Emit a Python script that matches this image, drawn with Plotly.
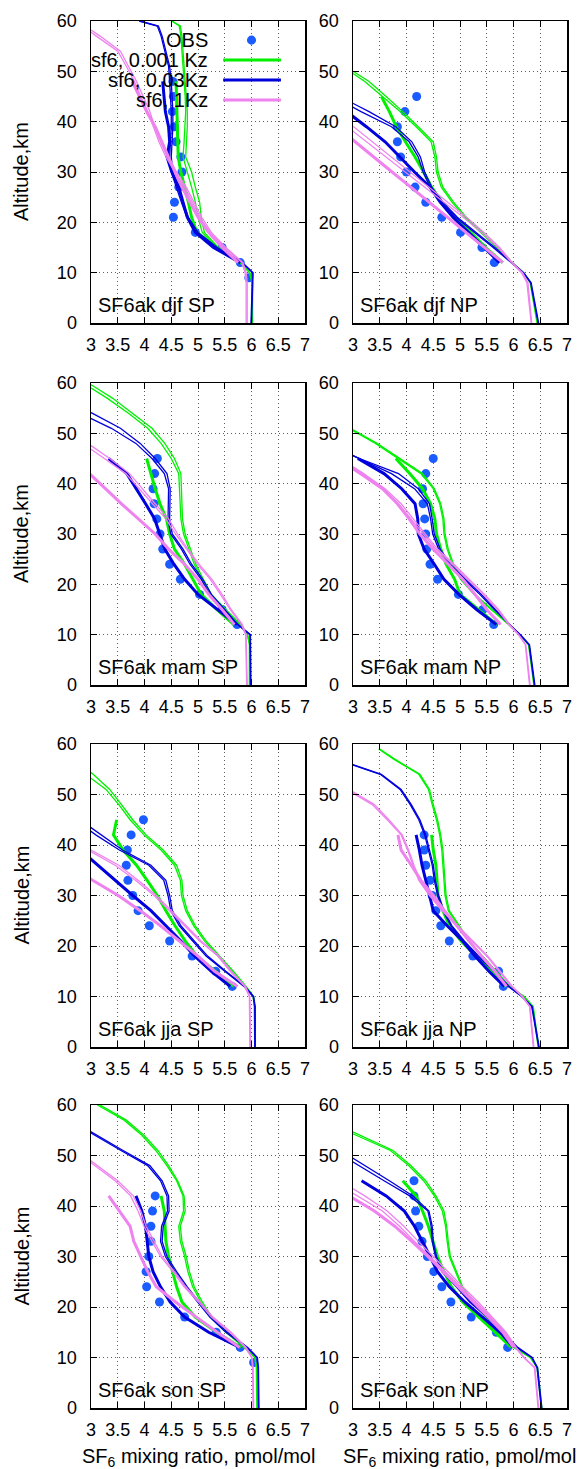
import plotly.graph_objects as go

# ---------------- axes / grids ----------------
ALT_M = [0, 8, 10, 12, 15, 18, 21, 24, 27, 30, 33, 36, 39, 42, 45, 48, 51, 54, 57, 59, 60]
ALT_AK = [12, 15, 18, 21, 24, 27, 30, 33, 36, 39, 42, 45, 48]
ALT_OBS = [9, 12, 15, 18, 21, 24, 27, 30, 33, 36, 39, 42, 45, 48]
X_TICKS = [3, 3.5, 4, 4.5, 5, 5.5, 6, 6.5, 7]
X_TICK_LABELS = ["3", "3.5", "4", "4.5", "5", "5.5", "6", "6.5", "7"]
Y_TICKS = [0, 10, 20, 30, 40, 50, 60]
PANEL_LABELS = ["SF6ak djf SP", "SF6ak djf NP", "SF6ak mam SP", "SF6ak mam NP",
                "SF6ak jja SP", "SF6ak jja NP", "SF6ak son SP", "SF6ak son NP"]
LEGEND_NAMES = ["OBS", "sf6, 0.001 Kz", "sf6, 0.03Kz", "sf6, 1Kz"]

# ---------------- djf SP ----------------
DJF_SP_OBS = [5.95, 5.79, 5.45, 4.95, 4.54, 4.56, 4.64, 4.70, 4.68, 4.59, 4.56, 4.52, 4.54, 4.53]
DJF_SP_G_A = [6.02, 6.02, 5.97, 5.80, 5.38, 5.12, 5.06, 5.03, 4.95, 4.88, 4.77, 4.79, 4.80, 4.80, 4.78, 4.76, 4.74, 4.72, 4.70, 4.67, 4.50]
DJF_SP_G_B = [6.01, 6.01, 5.96, 5.78, 5.35, 5.08, 5.00, 4.95, 4.88, 4.80, 4.72, 4.74, 4.76, 4.77, 4.76, 4.74, 4.72, 4.70, 4.68, 4.65, 4.52]
DJF_SP_G_AK = [5.78, 5.35, 4.98, 4.88, 4.82, 4.75, 4.68, 4.63, 4.62, 4.61, 4.60, 4.60, 4.59]
DJF_SP_B_A = [6.00, 6.03, 6.03, 5.83, 5.36, 5.00, 4.82, 4.72, 4.62, 4.53, 4.50, 4.52, 4.53, 4.53, 4.52, 4.50, 4.47, 4.40, 4.33, 4.26, 3.92]
DJF_SP_B_B = [5.99, 6.02, 6.02, 5.82, 5.33, 4.97, 4.79, 4.69, 4.59, 4.50, 4.47, 4.49, 4.50, 4.50, 4.49, 4.47, 4.45, 4.38, 4.31, 4.24, 3.90]
DJF_SP_B_AK = [5.79, 5.29, 4.95, 4.80, 4.72, 4.64, 4.51, 4.42, 4.47, 4.45, 4.39, 4.37, 4.34]
DJF_SP_P_A = [5.92, 5.92, 5.90, 5.84, 5.52, 5.25, 5.07, 4.93, 4.78, 4.60, 4.43, 4.30, 4.19, 4.10, 3.97, 3.85, 3.70, 3.55, 3.17, 2.90, 2.75]
DJF_SP_P_B = [5.90, 5.90, 5.88, 5.82, 5.50, 5.22, 5.04, 4.90, 4.75, 4.57, 4.40, 4.27, 4.16, 4.06, 3.93, 3.81, 3.66, 3.50, 3.10, 2.83, 2.70]
DJF_SP_P_AK = [5.75, 5.45, 5.20, 5.00, 4.85, 4.70, 4.57, 4.45, 4.33, 4.20, 4.04, 3.90, 3.77]

# ---------------- djf NP ----------------
DJF_NP_OBS = [None, 5.64, 5.41, 5.01, 4.66, 4.36, 4.16, 4.00, 3.89, 3.83, 3.83, 3.97, 4.19, None]
DJF_NP_G_A = [6.45, 6.32, 6.19, 5.98, 5.70, 5.42, 5.12, 4.88, 4.68, 4.59, 4.56, 4.50, 4.22, 3.93, 3.62, 3.30, 2.85, 2.40, 2.00, 1.70, 1.60]
DJF_NP_G_B = [6.44, 6.31, 6.18, 5.96, 5.68, 5.39, 5.09, 4.85, 4.65, 4.56, 4.53, 4.46, 4.18, 3.88, 3.56, 3.22, 2.80, 2.35, 1.95, 1.65, 1.55]
DJF_NP_G_AK = [5.80, 5.48, 5.20, 4.88, 4.66, 4.47, 4.32, 4.16, 3.98, 3.81, 3.68, 3.53, None]
DJF_NP_B_A = [6.47, 6.33, 6.19, 5.98, 5.65, 5.30, 4.95, 4.68, 4.47, 4.34, 4.26, 4.10, 3.80, 3.30, 2.75, 2.20, 1.60, 1.00, 0.50, 0.20, 0.00]
DJF_NP_B_B = [6.46, 6.32, 6.18, 5.96, 5.62, 5.27, 4.92, 4.65, 4.44, 4.31, 4.22, 4.05, 3.72, 3.15, 2.60, 2.05, 1.50, 1.00, 0.50, 0.20, 0.00]
DJF_NP_B_AK = [5.74, 5.45, 5.17, 4.87, 4.63, 4.44, 4.15, 3.88, 3.60, 3.25, 2.88, 2.45, None]
DJF_NP_P_A = [6.34, 6.27, 6.17, 5.98, 5.74, 5.45, 5.12, 4.77, 4.42, 4.05, 3.70, 3.35, 3.00, 2.65, 2.30, 1.95, 1.60, 1.25, 0.90, 0.70, 0.55]
DJF_NP_P_B = [6.33, 6.25, 6.15, 5.96, 5.71, 5.40, 5.06, 4.70, 4.34, 3.97, 3.60, 3.24, 2.88, 2.52, 2.16, 1.80, 1.44, 1.08, 0.72, 0.50, 0.36]
DJF_NP_P_AK = [5.80, 5.46, 5.11, 4.77, 4.42, 4.08, 3.73, 3.39, 3.05, 2.70, 2.35, None, None]

# ---------------- mam SP ----------------
MAM_SP_OBS = [None, 5.73, 5.45, 5.03, 4.67, 4.47, 4.34, 4.29, 4.23, 4.18, 4.16, 4.19, 4.24, None]
MAM_SP_G_A = [5.97, 5.97, 5.93, 5.80, 5.52, 5.25, 5.10, 4.96, 4.86, 4.76, 4.71, 4.70, 4.69, 4.68, 4.56, 4.38, 4.14, 3.78, 3.40, 3.10, 2.95]
MAM_SP_G_B = [5.96, 5.96, 5.92, 5.78, 5.50, 5.22, 5.07, 4.93, 4.83, 4.73, 4.68, 4.67, 4.66, 4.64, 4.50, 4.31, 4.06, 3.70, 3.30, 3.00, 2.85]
MAM_SP_G_AK = [5.67, 5.35, 5.06, 4.90, 4.75, 4.56, 4.47, 4.41, 4.29, 4.20, 4.12, 4.04, None]
MAM_SP_B_A = [5.99, 5.99, 5.98, 5.75, 5.50, 5.25, 5.09, 4.88, 4.72, 4.52, 4.47, 4.48, 4.48, 4.42, 4.20, 3.92, 3.55, 3.02, 2.45, 2.10, 1.90]
MAM_SP_B_B = [5.98, 5.98, 5.97, 5.74, 5.48, 5.22, 5.06, 4.85, 4.69, 4.49, 4.44, 4.45, 4.45, 4.37, 4.14, 3.84, 3.38, 2.80, 2.20, 1.80, 1.60]
MAM_SP_B_AK = [5.73, 5.36, 5.00, 4.75, 4.55, 4.38, 4.28, 4.19, 4.02, 3.85, 3.67, 3.33, None]
MAM_SP_P_A = [5.92, 5.91, 5.90, 5.83, 5.62, 5.45, 5.26, 5.02, 4.81, 4.62, 4.45, 4.20, 3.96, 3.72, 3.35, 2.92, 2.50, 2.10, 1.70, 1.45, 1.30]
MAM_SP_P_B = [5.91, 5.90, 5.89, 5.81, 5.60, 5.42, 5.23, 4.99, 4.78, 4.58, 4.40, 4.15, 3.90, 3.65, 3.25, 2.82, 2.40, 2.00, 1.60, 1.35, 1.20]
MAM_SP_P_AK = [5.68, 5.45, 5.20, 5.00, 4.75, 4.45, 4.20, 3.88, 3.57, 3.27, 2.97, None, None]

# ---------------- mam NP ----------------
MAM_NP_OBS = [None, 5.63, 5.43, 4.97, 4.58, 4.44, 4.38, 4.36, 4.34, 4.31, 4.30, 4.36, 4.50, None]
MAM_NP_G_A = [6.39, 6.29, 6.12, 5.92, 5.60, 5.28, 5.03, 4.88, 4.78, 4.72, 4.70, 4.64, 4.52, 4.30, 3.88, 3.45, 2.95, 2.50, 2.00, 1.70, 1.50]
MAM_NP_G_B = [6.38, 6.28, 6.11, 5.91, 5.58, 5.26, 5.01, 4.86, 4.76, 4.70, 4.68, 4.62, 4.50, 4.27, 3.84, 3.42, 2.92, 2.45, 1.95, 1.65, 1.45]
MAM_NP_G_AK = [5.69, 5.35, 5.00, 4.90, 4.74, 4.64, 4.56, 4.53, 4.45, 4.30, 4.06, 3.80, None]
MAM_NP_B_A = [6.40, 6.30, 6.13, 5.93, 5.66, 5.40, 5.10, 4.82, 4.63, 4.52, 4.48, 4.43, 4.22, 3.85, 3.12, 2.50, 1.90, 1.30, 0.70, 0.35, 0.10]
MAM_NP_B_B = [6.39, 6.29, 6.12, 5.92, 5.64, 5.37, 5.07, 4.80, 4.60, 4.49, 4.45, 4.39, 4.15, 3.72, 3.08, 2.45, 1.85, 1.25, 0.65, 0.30, 0.05]
MAM_NP_B_AK = [5.68, 5.31, 4.98, 4.70, 4.52, 4.33, 4.22, 4.21, 4.16, 3.91, 3.58, 3.09, None]
MAM_NP_P_A = [6.31, 6.23, 6.10, 5.93, 5.72, 5.46, 5.17, 4.89, 4.58, 4.35, 4.13, 3.90, 3.60, 3.20, 2.75, 2.30, 1.85, 1.40, 0.95, 0.65, 0.50]
MAM_NP_P_B = [6.30, 6.22, 6.09, 5.91, 5.70, 5.43, 5.14, 4.86, 4.55, 4.32, 4.09, 3.85, 3.55, 3.14, 2.70, 2.25, 1.80, 1.35, 0.90, 0.60, 0.45]
MAM_NP_P_AK = [5.76, 5.50, 5.28, 5.05, 4.78, 4.50, 4.25, 4.05, 3.83, 3.55, 3.14, 2.70, None]

# ---------------- jja SP ----------------
JJA_SP_OBS = [None, 5.64, 5.33, 4.89, 4.47, 4.09, 3.88, 3.78, 3.69, 3.66, 3.68, 3.75, 3.98, None]
JJA_SP_G_A = [6.07, 6.06, 6.04, 5.90, 5.66, 5.40, 5.15, 4.95, 4.80, 4.72, 4.70, 4.60, 4.35, 4.03, 3.78, 3.57, 3.35, 3.04, 2.70, 2.45, 2.30]
JJA_SP_G_B = [6.06, 6.05, 6.03, 5.88, 5.63, 5.37, 5.12, 4.92, 4.77, 4.69, 4.67, 4.56, 4.31, 3.99, 3.73, 3.52, 3.28, 2.90, 2.55, 2.35, 2.20]
JJA_SP_G_AK = [5.67, 5.32, 4.98, 4.76, 4.57, 4.40, 4.24, 4.05, 3.85, 3.60, 3.42, 3.48, None]
JJA_SP_B_A = [6.07, 6.07, 6.04, 5.88, 5.52, 5.18, 4.93, 4.68, 4.52, 4.47, 4.40, 4.12, 3.59, 3.18, 2.77, 2.40, 2.00, 1.60, 1.20, 0.90, 0.80]
JJA_SP_B_B = [6.06, 6.06, 6.03, 5.86, 5.50, 5.15, 4.90, 4.65, 4.49, 4.44, 4.36, 4.08, 3.53, 3.09, 2.70, 2.30, 1.90, 1.50, 1.10, 0.80, 0.70]
JJA_SP_B_AK = [5.60, 5.25, 4.94, 4.68, 4.40, 4.12, 3.78, 3.45, 3.13, 2.80, None, None, None]
JJA_SP_P_A = [5.98, 5.98, 5.97, 5.89, 5.62, 5.40, 5.06, 4.78, 4.50, 4.22, 3.88, 3.52, 3.00, 2.50, 2.00, None, None, None, None, None, None]
JJA_SP_P_B = [5.97, 5.97, 5.96, 5.87, 5.60, 5.37, 5.03, 4.75, 4.47, 4.18, 3.83, 3.45, 2.94, 2.45, 1.95, None, None, None, None, None, None]
JJA_SP_P_AK = [5.74, 5.31, 5.00, 4.65, 4.30, 3.92, 3.51, 3.03, 2.60, None, None, None, None]

# ---------------- jja NP ----------------
JJA_NP_OBS = [None, 5.81, 5.72, 5.24, 4.80, 4.64, 4.55, 4.48, 4.44, 4.36, 4.33, 4.33, None, None]
JJA_NP_G_A = [6.47, 6.37, 6.20, 5.93, 5.68, 5.43, 5.17, 4.99, 4.80, 4.74, 4.72, 4.70, 4.68, 4.64, 4.58, 4.50, 4.43, 4.25, 3.78, 3.50, None]
JJA_NP_G_B = [6.46, 6.36, 6.19, 5.91, 5.66, 5.41, 5.15, 4.97, 4.78, 4.72, 4.70, 4.68, 4.66, 4.62, 4.56, 4.48, 4.41, 4.23, 3.76, 3.48, None]
JJA_NP_G_AK = [5.86, 5.58, 5.30, 5.02, 4.80, 4.68, 4.59, 4.57, 4.55, 4.50, 4.47, None, None]
JJA_NP_B_A = [6.48, 6.35, 6.16, 5.92, 5.65, 5.35, 5.08, 4.85, 4.70, 4.60, 4.54, 4.50, 4.43, 4.36, 4.25, 4.09, 3.90, 3.53, 2.70, 2.30, 2.10]
JJA_NP_B_B = [6.47, 6.34, 6.15, 5.90, 5.63, 5.33, 5.06, 4.83, 4.68, 4.58, 4.52, 4.48, 4.41, 4.34, 4.23, 4.07, 3.88, 3.51, 2.68, 2.28, 2.08]
JJA_NP_B_AK = [5.83, 5.54, 5.28, 5.05, 4.76, 4.50, 4.43, 4.36, 4.29, 4.24, 4.18, None, None]
JJA_NP_P_A = [6.38, 6.31, 6.17, 5.98, 5.75, 5.52, 5.24, 4.96, 4.68, 4.45, 4.25, 4.14, 4.04, 3.92, 3.67, 3.40, 2.95, 2.50, 2.00, 1.70, 1.50]
JJA_NP_P_B = [6.37, 6.30, 6.16, 5.96, 5.73, 5.50, 5.22, 4.94, 4.66, 4.43, 4.23, 4.12, 4.02, 3.90, 3.64, 3.36, 2.90, 2.45, 1.95, 1.65, 1.45]
JJA_NP_P_AK = [5.87, 5.65, 5.40, 5.17, 4.95, 4.71, 4.50, 4.27, 4.09, 3.90, 3.84, None, None]

# ---------------- son SP ----------------
SON_SP_OBS = [6.04, 5.79, 5.34, 4.75, 4.28, 4.04, 4.03, 4.08, 4.12, 4.12, 4.15, 4.20, None, None]
SON_SP_G_A = [6.11, 6.10, 6.07, 5.88, 5.55, 5.26, 5.08, 4.93, 4.84, 4.78, 4.70, 4.67, 4.76, 4.74, 4.62, 4.45, 4.25, 3.99, 3.66, 3.35, 3.17]
SON_SP_G_B = [6.10, 6.09, 6.06, 5.86, 5.52, 5.23, 5.05, 4.90, 4.81, 4.75, 4.67, 4.64, 4.73, 4.72, 4.60, 4.42, 4.21, 3.95, 3.62, 3.30, 3.12]
SON_SP_G_AK = [5.80, 5.35, 4.95, 4.70, 4.60, 4.52, 4.45, 4.40, 4.39, 4.37, 4.31, None, None]
SON_SP_B_A = [6.14, 6.13, 6.11, 5.93, 5.55, 5.25, 5.02, 4.80, 4.60, 4.42, 4.33, 4.35, 4.46, 4.45, 4.33, 4.10, 3.60, 3.11, 2.62, 2.30, 2.15]
SON_SP_B_B = [6.13, 6.12, 6.10, 5.91, 5.52, 5.22, 4.99, 4.77, 4.57, 4.39, 4.30, 4.32, 4.43, 4.42, 4.30, 4.06, 3.56, 3.07, 2.58, 2.26, 2.10]
SON_SP_B_AK = [5.78, 5.20, 4.75, 4.48, 4.30, 4.16, 4.08, 4.05, 4.02, 3.95, 3.84, None, None]
SON_SP_P_A = [6.04, 6.03, 6.01, 5.90, 5.62, 5.28, 5.04, 4.77, 4.56, 4.33, 4.18, 4.03, 3.93, 3.79, 3.50, 3.14, 2.78, 2.40, 2.00, 1.75, 1.60]
SON_SP_P_B = [6.03, 6.02, 6.00, 5.88, 5.59, 5.25, 5.01, 4.74, 4.53, 4.30, 4.14, 3.99, 3.88, 3.74, 3.45, 3.08, 2.72, 2.34, 1.95, 1.70, 1.55]
SON_SP_P_AK = [5.78, 5.36, 4.97, 4.58, 4.22, 4.06, 3.93, 3.80, 3.73, 3.53, 3.33, None, None]

# ---------------- son NP ----------------
SON_NP_OBS = [None, 5.89, 5.68, 5.21, 4.83, 4.66, 4.51, 4.39, 4.29, 4.23, 4.17, 4.14, 4.14, None]
SON_NP_G_A = [6.53, 6.45, 6.32, 6.02, 5.75, 5.50, 5.25, 5.05, 4.93, 4.82, 4.78, 4.75, 4.70, 4.55, 4.36, 4.08, 3.75, 3.10, 2.50, 2.10, 1.90]
SON_NP_G_B = [6.52, 6.44, 6.31, 6.00, 5.73, 5.48, 5.23, 5.03, 4.91, 4.80, 4.76, 4.73, 4.67, 4.52, 4.32, 4.04, 3.70, 3.02, 2.42, 2.02, 1.82]
SON_NP_G_AK = [5.96, 5.65, 5.36, 5.05, 4.84, 4.70, 4.58, 4.50, 4.41, 4.30, 4.18, 3.93, None]
SON_NP_B_A = [6.53, 6.45, 6.35, 6.08, 5.80, 5.52, 5.20, 4.95, 4.68, 4.56, 4.50, 4.48, 4.42, 4.12, 3.68, 3.22, 2.75, 2.30, 1.85, 1.55, 1.40]
SON_NP_B_B = [6.52, 6.44, 6.34, 6.06, 5.78, 5.50, 5.18, 4.93, 4.66, 4.54, 4.48, 4.46, 4.40, 4.06, 3.58, 3.08, 2.60, 2.15, 1.70, 1.40, 1.25]
SON_NP_B_AK = [6.00, 5.75, 5.42, 5.09, 4.80, 4.58, 4.44, 4.30, 4.15, 3.96, 3.62, 3.16, None]
SON_NP_P_A = [6.47, 6.40, 6.20, 6.05, 5.86, 5.60, 5.34, 5.05, 4.78, 4.50, 4.22, 3.95, 3.64, 3.22, 2.75, 2.30, None, None, None, None, None]
SON_NP_P_B = [6.46, 6.39, 6.19, 6.03, 5.84, 5.57, 5.30, 5.01, 4.73, 4.44, 4.15, 3.87, 3.55, 3.10, 2.62, 2.15, None, None, None, None, None]
SON_NP_P_AK = [6.00, 5.80, 5.53, 5.25, 4.96, 4.68, 4.40, 4.10, 3.78, 3.40, 2.93, None, None]

PANELS = [
    (DJF_SP_OBS, DJF_SP_G_A, DJF_SP_G_B, DJF_SP_G_AK, DJF_SP_B_A, DJF_SP_B_B, DJF_SP_B_AK, DJF_SP_P_A, DJF_SP_P_B, DJF_SP_P_AK),
    (DJF_NP_OBS, DJF_NP_G_A, DJF_NP_G_B, DJF_NP_G_AK, DJF_NP_B_A, DJF_NP_B_B, DJF_NP_B_AK, DJF_NP_P_A, DJF_NP_P_B, DJF_NP_P_AK),
    (MAM_SP_OBS, MAM_SP_G_A, MAM_SP_G_B, MAM_SP_G_AK, MAM_SP_B_A, MAM_SP_B_B, MAM_SP_B_AK, MAM_SP_P_A, MAM_SP_P_B, MAM_SP_P_AK),
    (MAM_NP_OBS, MAM_NP_G_A, MAM_NP_G_B, MAM_NP_G_AK, MAM_NP_B_A, MAM_NP_B_B, MAM_NP_B_AK, MAM_NP_P_A, MAM_NP_P_B, MAM_NP_P_AK),
    (JJA_SP_OBS, JJA_SP_G_A, JJA_SP_G_B, JJA_SP_G_AK, JJA_SP_B_A, JJA_SP_B_B, JJA_SP_B_AK, JJA_SP_P_A, JJA_SP_P_B, JJA_SP_P_AK),
    (JJA_NP_OBS, JJA_NP_G_A, JJA_NP_G_B, JJA_NP_G_AK, JJA_NP_B_A, JJA_NP_B_B, JJA_NP_B_AK, JJA_NP_P_A, JJA_NP_P_B, JJA_NP_P_AK),
    (SON_SP_OBS, SON_SP_G_A, SON_SP_G_B, SON_SP_G_AK, SON_SP_B_A, SON_SP_B_B, SON_SP_B_AK, SON_SP_P_A, SON_SP_P_B, SON_SP_P_AK),
    (SON_NP_OBS, SON_NP_G_A, SON_NP_G_B, SON_NP_G_AK, SON_NP_B_A, SON_NP_B_B, SON_NP_B_AK, SON_NP_P_A, SON_NP_P_B, SON_NP_P_AK),
]

# ---------------- style ----------------
W, H = 581, 1469
FONT = "Liberation Sans, Arial, Helvetica, sans-serif"
GREEN = "#00f000"
BLUE = "#0000dd"
PINK = "#ee82ee"
OBS_COLOR = "#1a5cff"
GRID = "#606060"
COL_PX = [(91, 305), (353, 567)]
ROW_PX = [(21, 323), (383, 685), (744, 1047), (1105, 1408)]

fig = go.Figure()
annotations = []
shapes = []

for i, panel in enumerate(PANELS):
    r, c = divmod(i, 2)
    n = i + 1
    xa = "x" if n == 1 else f"x{n}"
    ya = "y" if n == 1 else f"y{n}"
    obs, g_a, g_b, g_ak, b_a, b_b, b_ak, p_a, p_b, p_ak = panel

    fig.add_trace(go.Scatter(x=obs, y=ALT_OBS, mode="markers",
                             marker=dict(color=OBS_COLOR, size=9, line=dict(width=0)),
                             xaxis=xa, yaxis=ya, showlegend=False, hoverinfo="skip"))
    for color, thin1, thin2, thick in [(GREEN, g_a, g_b, g_ak), (BLUE, b_a, b_b, b_ak), (PINK, p_a, p_b, p_ak)]:
        for arr in (thin1, thin2):
            fig.add_trace(go.Scatter(x=arr, y=ALT_M, mode="lines",
                                     line=dict(color=color, width=1.3),
                                     xaxis=xa, yaxis=ya, showlegend=False, hoverinfo="skip"))
        fig.add_trace(go.Scatter(x=thick, y=ALT_AK, mode="lines",
                                 line=dict(color=color, width=3),
                                 xaxis=xa, yaxis=ya, showlegend=False, hoverinfo="skip"))

    x0, x1 = COL_PX[c]
    y0, y1 = ROW_PX[r]
    common = dict(showline=True, linecolor="black", linewidth=1.5, mirror="allticks",
                  ticks="inside", ticklen=6, tickwidth=1, tickcolor="black",
                  showgrid=True, gridcolor=GRID, griddash="1px,3px", gridwidth=1,
                  zeroline=False, automargin=False, fixedrange=True,
                  tickfont=dict(family=FONT, size=18, color="black"))
    fig.layout[f"xaxis{'' if n == 1 else n}"] = dict(
        common, domain=[x0 / W, x1 / W], range=[3, 7], anchor=ya,
        tickmode="array", tickvals=X_TICKS, ticktext=X_TICK_LABELS, ticklabelstandoff=5)
    fig.layout[f"yaxis{'' if n == 1 else n}"] = dict(
        common, domain=[1 - y1 / H, 1 - y0 / H], range=[0, 60], anchor=xa,
        tickmode="array", tickvals=Y_TICKS, ticklabelstandoff=9)

    annotations.append(dict(x=3.1, y=3.6, xref=xa, yref=ya, text=PANEL_LABELS[i],
                            showarrow=False, xanchor="left", yanchor="middle",
                            font=dict(family=FONT, size=20, color="black")))
    if c == 0:
        annotations.append(dict(x=21 / W, y=1 - (y0 + y1) / 2 / H, xref="paper", yref="paper",
                                text="Altitude,km", textangle=-90, showarrow=False,
                                xanchor="center", yanchor="middle",
                                font=dict(family=FONT, size=20, color="black")))
    if r == 3:
        annotations.append(dict(x=(x0 + x1) / 2 / W, y=1 - 1457 / H, xref="paper", yref="paper",
                                text="SF<sub>6</sub> mixing ratio, pmol/mol", showarrow=False,
                                xanchor="center", yanchor="middle",
                                font=dict(family=FONT, size=20, color="black")))

# key (top-left panel)
KEY_ALT = [56.2, 52.25, 48.3, 44.3]
KEY_COLORS = [OBS_COLOR, GREEN, BLUE, PINK]
for k, name in enumerate(LEGEND_NAMES):
    annotations.append(dict(x=5.22, y=KEY_ALT[k], xref="x", yref="y", text=name,
                            showarrow=False, xanchor="right", yanchor="middle",
                            font=dict(family=FONT, size=20, color="black")))
    if k == 0:
        shapes.append(dict(type="circle", xref="x", yref="y", x0=6.0 - 0.085, x1=6.0 + 0.085,
                           y0=KEY_ALT[k] - 0.9, y1=KEY_ALT[k] + 0.9,
                           fillcolor=OBS_COLOR, line=dict(width=0)))
    else:
        shapes.append(dict(type="line", xref="x", yref="y", x0=5.47, x1=6.55,
                           y0=KEY_ALT[k], y1=KEY_ALT[k],
                           line=dict(color=KEY_COLORS[k], width=3)))

fig.update_layout(width=W, height=H, margin=dict(l=0, r=0, t=0, b=0),
                  paper_bgcolor="white", plot_bgcolor="white",
                  template="none", showlegend=False,
                  annotations=annotations, shapes=shapes,
                  font=dict(family=FONT, color="black"))

fig.write_html("out.html",
               config={"displayModeBar": False, "staticPlot": True},
               post_script="document.body.style.margin='0px';document.body.style.padding='0px';")
